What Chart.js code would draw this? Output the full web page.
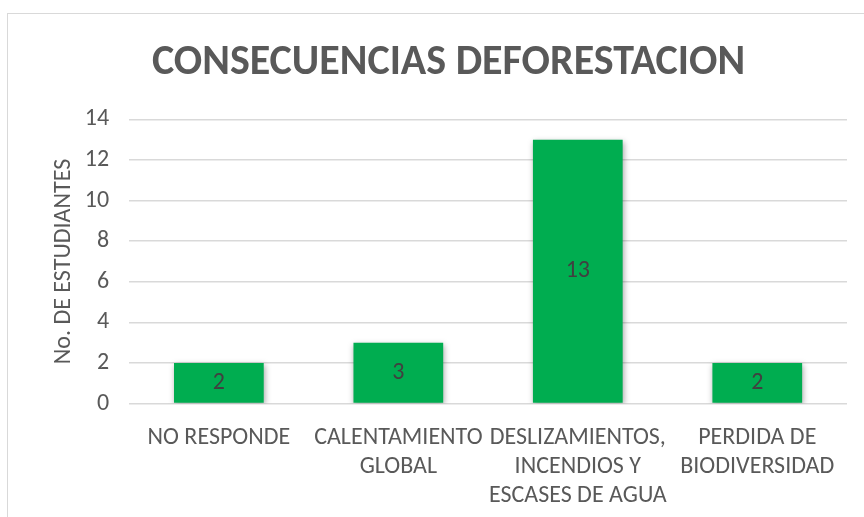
<!DOCTYPE html>
<html>
<head>
<meta charset="utf-8">
<script src="https://cdn.jsdelivr.net/npm/chart.js@4"></script>
<style>
  html, body { margin: 0; padding: 0; background: #fff; }
  #wrap { position: relative; width: 864px; height: 517px; overflow: hidden; }
  #frame { position: absolute; left: 7px; top: 13px; width: 900px; height: 600px; border: 1px solid #d9d9d9; box-sizing: border-box; }
  canvas { position: absolute; left: 7px; top: 13px; }
</style>
</head>
<body>
<div id="wrap">
  <div id="frame"></div>
  <canvas id="barChart" width="876" height="517"></canvas>
</div>
<script>
// data
const categories = [
    "NO RESPONDE",
    ["CALENTAMIENTO", "GLOBAL"],
    ["DESLIZAMIENTOS,", "INCENDIOS Y", "ESCASES DE AGUA"],
    ["PERDIDA DE", "BIODIVERSIDAD"]
];
const students = [2, 3, 13, 2];
const yTicks = [0, 2, 4, 6, 8, 10, 12, 14];

const FONT = "Carlito, 'Open Sans', 'Liberation Sans', sans-serif";

/* ---------------------------
   value labels inside bars
--------------------------- */
const barLabels = {
    id: 'barLabels',
    afterDatasetsDraw(chart) {
        const ctx = chart.ctx;
        const meta = chart.getDatasetMeta(0);
        ctx.save();
        ctx.fillStyle = '#404040';
        ctx.font = '24px ' + FONT;
        ctx.textAlign = 'center';
        ctx.textBaseline = 'middle';
        meta.data.forEach((bar, i) => {
            const mid = (bar.y + bar.base) / 2;
            ctx.fillText(String(students[i]), bar.x, mid);
        });
        ctx.restore();
    }
};

// soft shadow under the bars
const barShadow = {
    id: 'barShadow',
    beforeDatasetDraw(chart) {
        const ctx = chart.ctx;
        ctx.save();
        ctx.shadowColor = 'rgba(0,0,0,0.35)';
        ctx.shadowBlur = 6;
        ctx.shadowOffsetX = 1;
        ctx.shadowOffsetY = 2;
    },
    afterDatasetDraw(chart) {
        chart.ctx.restore();
    }
};

const barCtx = document.getElementById('barChart').getContext('2d');

const barChart = new Chart(barCtx, {
    type: 'bar',
    data: {
        labels: categories,
        datasets: [{
            data: students,
            backgroundColor: '#00ad50',
            borderWidth: 0,
            categoryPercentage: 1,
            barPercentage: 0.5
        }]
    },
    options: {
        responsive: false,
        animation: false,
        layout: { padding: { left: 43, right: 36, top: 0, bottom: 8 } },
        scales: {
            x: {
                grid: { display: false },
                border: { display: false },
                ticks: {
                    color: '#595959',
                    font: { family: FONT, size: 24, lineHeight: 1.2 },
                    maxRotation: 0,
                    autoSkip: false,
                    padding: 12
                }
            },
            y: {
                min: 0,
                max: 14,
                afterBuildTicks(axis) {
                    axis.ticks = yTicks.map(v => ({ value: v }));
                },
                grid: { color: '#d9d9d9', lineWidth: 1.5, drawTicks: false },
                border: { display: false },
                ticks: {
                    color: '#595959',
                    font: { family: FONT, size: 24 },
                    padding: 20
                },
                title: {
                    display: true,
                    text: 'No. DE ESTUDIANTES',
                    color: '#595959',
                    font: { family: FONT, size: 24 },
                    padding: { top: 0, bottom: -14 }
                }
            }
        },
        plugins: {
            legend: { display: false },
            tooltip: { enabled: false },
            title: {
                display: true,
                text: 'CONSECUENCIAS DEFORESTACION',
                color: '#595959',
                font: { family: FONT, size: 42, weight: 'bold' },
                padding: { top: 25, bottom: 31 }
            }
        }
    },
    plugins: [barShadow, barLabels]
});
</script>
</body>
</html>
